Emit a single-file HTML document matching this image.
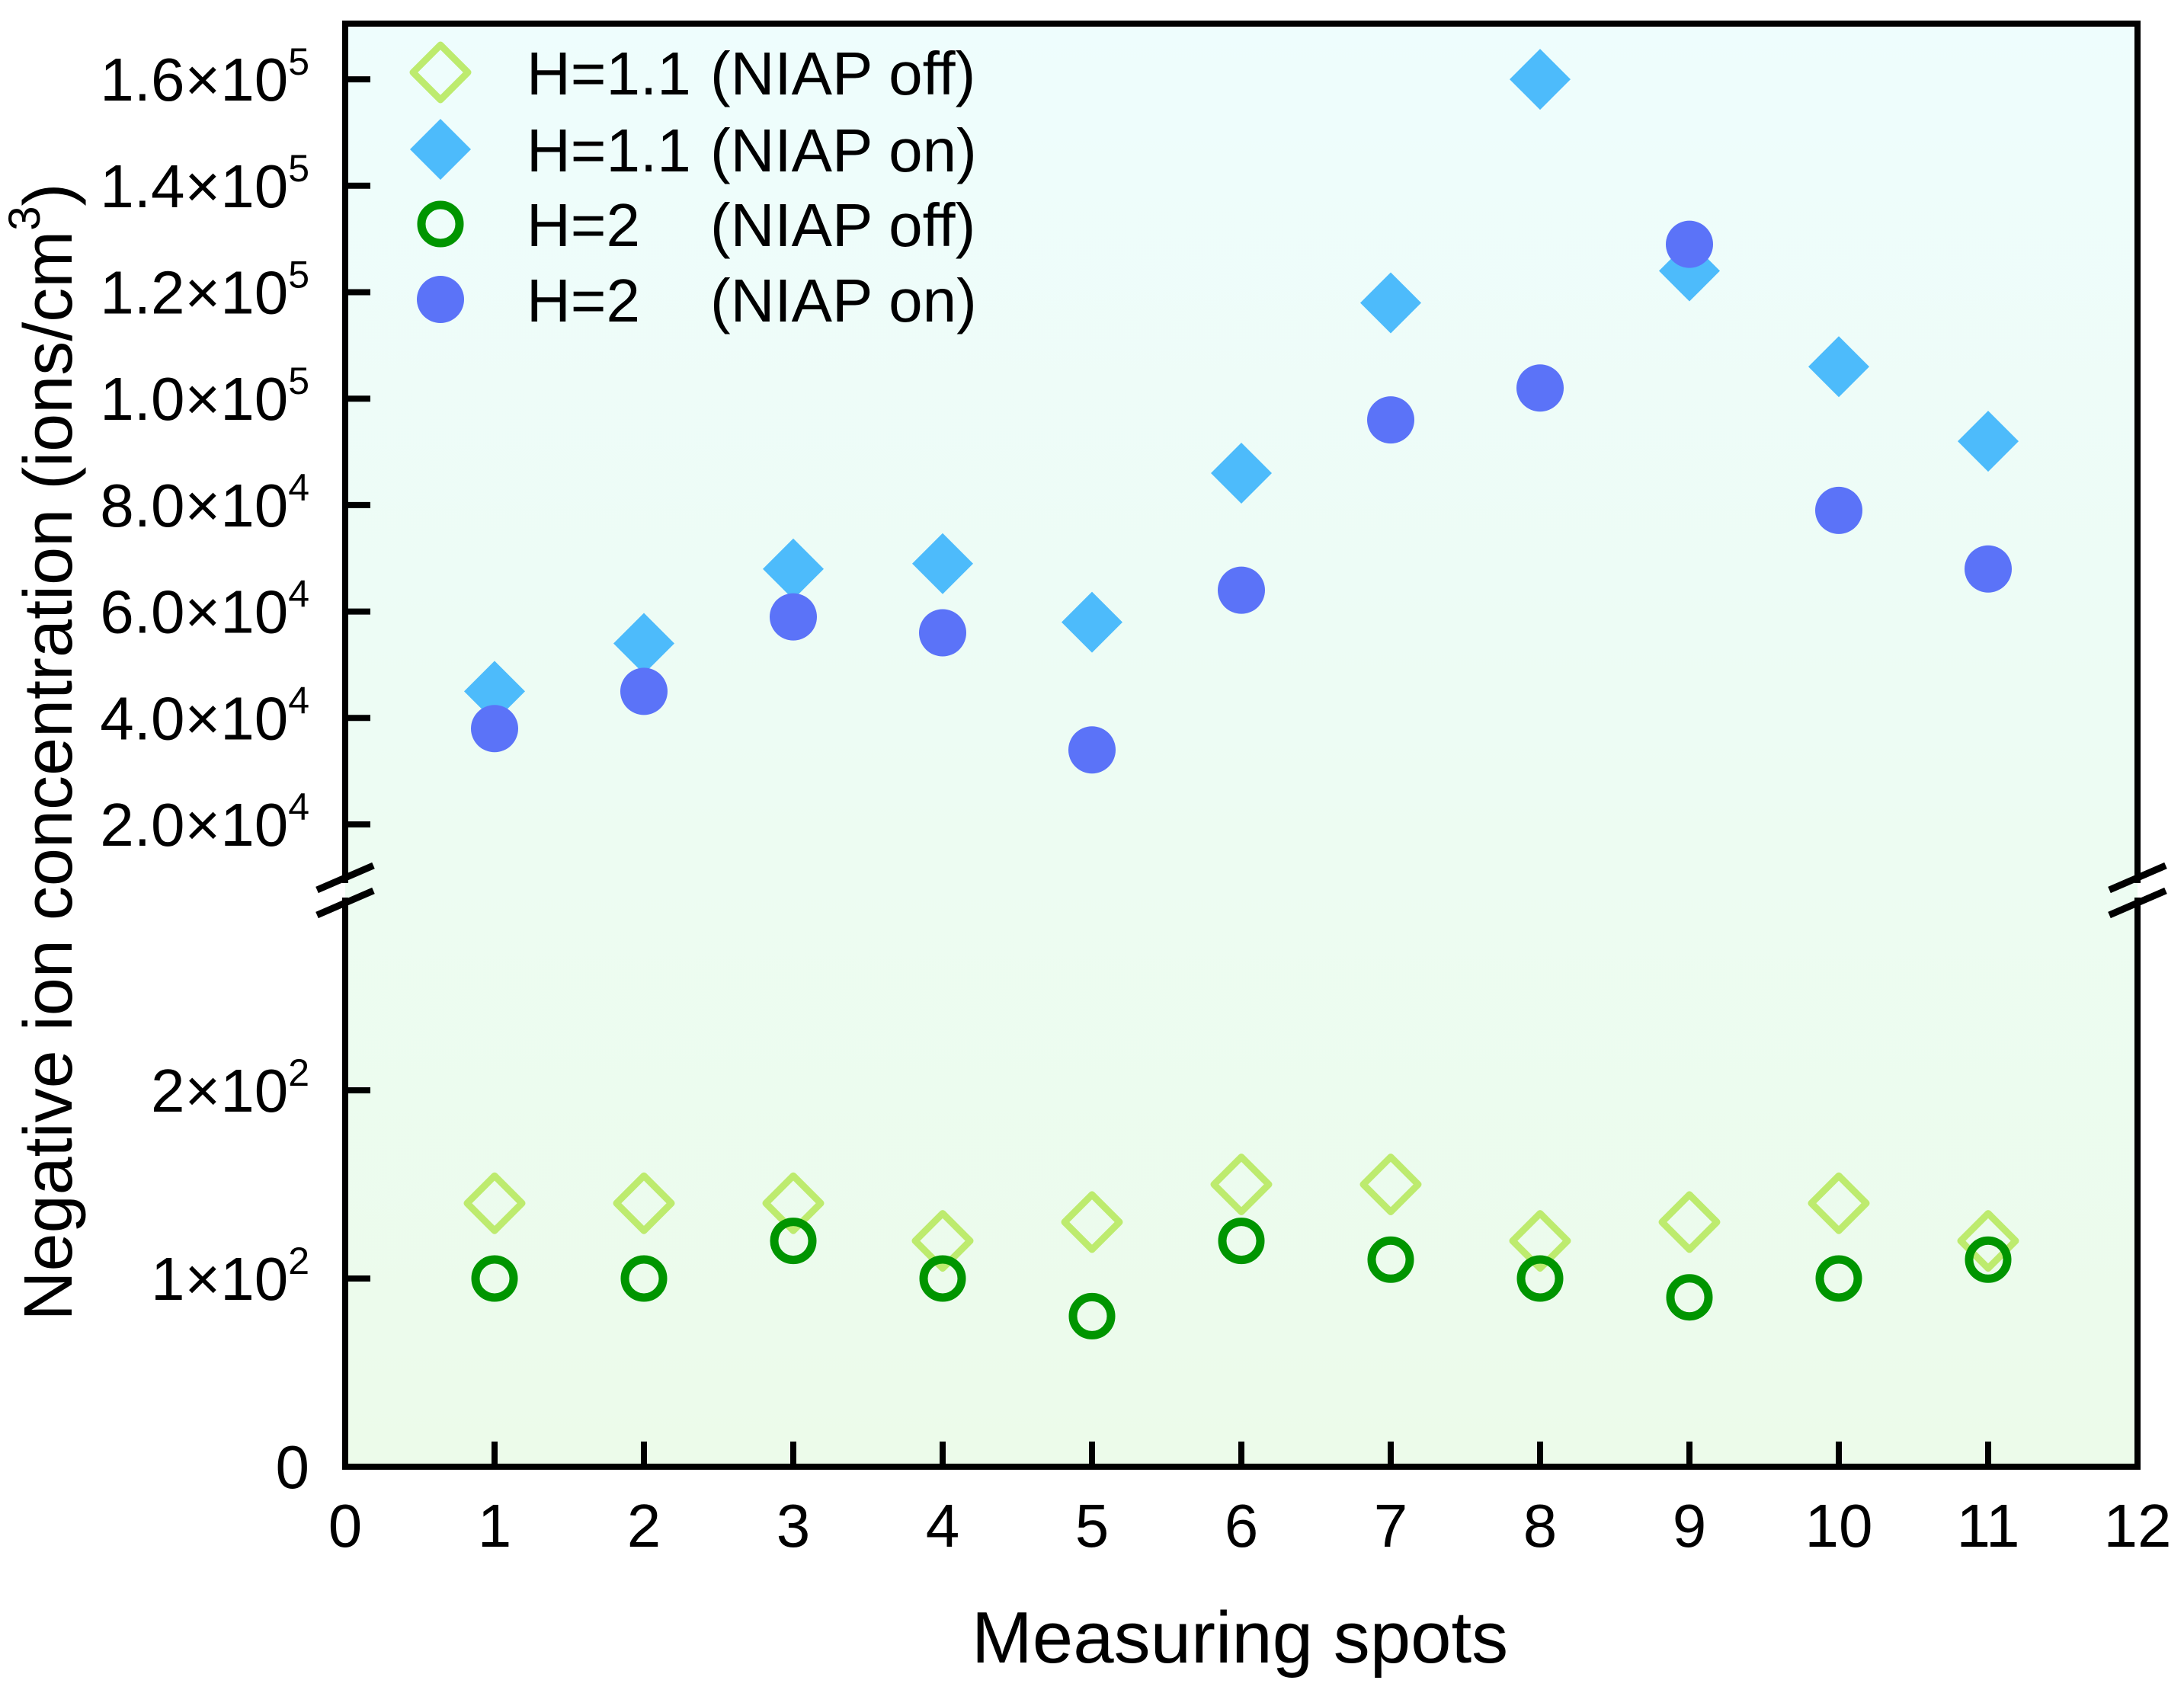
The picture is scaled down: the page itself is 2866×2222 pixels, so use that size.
<!DOCTYPE html>
<html><head><meta charset="utf-8"><style>
html,body{margin:0;padding:0;background:#fff;}
svg{display:block;font-family:"Liberation Sans",Arial,sans-serif;}
</style></head><body>
<svg id="chart" width="2866" height="2222" viewBox="0 0 2866 2222" xmlns="http://www.w3.org/2000/svg">
<defs>
<linearGradient id="bg" x1="0" y1="0" x2="0" y2="1">
<stop offset="0" stop-color="#eefdfd"/><stop offset="1" stop-color="#ecfbea"/>
</linearGradient>
</defs>
<rect x="453" y="31" width="2352" height="1894" fill="url(#bg)"/>
<g id="marks"></g>
<g id="axes"></g>
<g id="legend"></g>
<text x="64" y="987" font-size="90" text-anchor="middle" transform="rotate(-90 64 987)" dominant-baseline="central">Negative ion concentration (ions/cm<tspan dy="-32" font-size="58">3</tspan><tspan dy="32">)</tspan></text>
<text x="1627" y="2182" font-size="96" text-anchor="middle">Measuring spots</text>
</svg>
<script>
const spots = [1,2,3,4,5,6,7,8,9,10,11];
const h11On = [45000,54000,68000,69000,58000,86000,118000,160000,124000,106000,92000];
const h2On = [38000,45000,59000,56000,34000,64000,96000,102000,129000,79000,68000];
const h11Off = [140,140,140,120,130,150,150,120,130,140,120];
const h2Off = [100,100,120,100,80,120,110,100,90,100,110];
const xTicks = [0,1,2,3,4,5,6,7,8,9,10,11,12];
const yUpperTicks = [20000,40000,60000,80000,100000,120000,140000,160000];
const yUpperLabels = [["2.0","4"],["4.0","4"],["6.0","4"],["8.0","4"],["1.0","5"],["1.2","5"],["1.4","5"],["1.6","5"]];
const yLowerTicks = [0,100,200];
const yLowerLabels = [["0",""],["1","2"],["2","2"]];

const NS="http://www.w3.org/2000/svg";
const L=453,R=2805,T=31,B=1925;
function xs(v){return L+v*196;}
function yUp(v){return 1082-(v-20000)/20000*139.7;}
function yLow(v){return B-v*2.47;}
function mk(tag,attrs,parent){const e=document.createElementNS(NS,tag);for(const k in attrs)e.setAttribute(k,attrs[k]);parent.appendChild(e);return e;}
const marks=document.getElementById('marks'),axes=document.getElementById('axes'),legend=document.getElementById('legend');
function diamond(cx,cy,r){return `M${cx},${cy-r} L${cx+r},${cy} L${cx},${cy+r} L${cx-r},${cy} Z`;}

spots.forEach((s,i)=>{
  let e=mk('path',{d:diamond(xs(s),yLow(h11Off[i]),36),fill:'none',stroke:'#bdeb6e','stroke-width':9,'stroke-linejoin':'round'},marks);
  
  
});
spots.forEach((s,i)=>{
  let e=mk('circle',{cx:xs(s),cy:yLow(h2Off[i]),r:25,fill:'none',stroke:'#009500','stroke-width':11},marks);
  
  
});
spots.forEach((s,i)=>{
  let e=mk('path',{d:diamond(xs(s),yUp(h11On[i]),40),fill:'#4dbbfb','stroke-linejoin':'round'},marks);
  
  
});
spots.forEach((s,i)=>{
  let e=mk('circle',{cx:xs(s),cy:yUp(h2On[i]),r:31,fill:'#5b73f8'},marks);
  
  
});

const sw=8;
[[L,T,R,T],[L,B,R,B],[L,T,L,1155],[L,1182,L,B],[R,T,R,1155],[R,1182,R,B]].forEach(a=>{
  let e=mk('line',{x1:a[0],y1:a[1],x2:a[2],y2:a[3],stroke:'#000','stroke-width':sw,'stroke-linecap':'square'},axes);
  
  
});
[L,R].forEach(x=>{[1152,1185].forEach(y=>{
  let e=mk('line',{x1:x-37,y1:y+16,x2:x+37,y2:y-16,stroke:'#000','stroke-width':9},axes);
  
  
});});
xTicks.forEach(v=>{
  if(v>0&&v<12){let t=mk('line',{x1:xs(v),y1:B,x2:xs(v),y2:B-33,stroke:'#000','stroke-width':sw},axes);
  
  }
  let e=mk('text',{x:xs(v),y:2030,'font-size':80,'text-anchor':'middle'},axes);
  e.textContent=String(v);
  
  
});
function yLabel(y,lab){
  let e=mk('text',{x:406,y:y+28,'font-size':80,'text-anchor':'end'},axes);
  
  
  if(lab[1]===''){e.textContent=lab[0];return;}
  const a=document.createElementNS(NS,'tspan');a.textContent=lab[0]+'×10';e.appendChild(a);
  const b=document.createElementNS(NS,'tspan');b.setAttribute('dy','-34');b.setAttribute('font-size','50');b.textContent=lab[1];e.appendChild(b);
}
yUpperTicks.forEach((v,i)=>{
  let t=mk('line',{x1:L,y1:yUp(v),x2:L+33,y2:yUp(v),stroke:'#000','stroke-width':sw},axes);
  
  
  yLabel(yUp(v),yUpperLabels[i]);
});
yLowerTicks.forEach((v,i)=>{
  if(v>0){let t=mk('line',{x1:L,y1:yLow(v),x2:L+33,y2:yLow(v),stroke:'#000','stroke-width':sw},axes);
  
  }
  yLabel(yLow(v),yLowerLabels[i]);
});

const legNames=[["H=1.1","(NIAP off)"],["H=1.1","(NIAP on)"],["H=2","(NIAP off)"],["H=2","(NIAP on)"]];
const legY=[95,196,294,393];
let g;
g=mk('path',{d:diamond(578,legY[0],36),fill:'none',stroke:'#bdeb6e','stroke-width':9,'stroke-linejoin':'round'},legend);


g=mk('path',{d:diamond(578,legY[1],40),fill:'#4dbbfb'},legend);


g=mk('circle',{cx:578,cy:legY[2],r:25,fill:'none',stroke:'#009500','stroke-width':11},legend);


g=mk('circle',{cx:578,cy:legY[3],r:31,fill:'#5b73f8'},legend);


legNames.forEach((n,i)=>{
  let a=mk('text',{x:691,y:legY[i]+29,'font-size':80},legend);
  a.textContent=n[0];
  
  
  let b=mk('text',{x:932,y:legY[i]+29,'font-size':80},legend);
  b.textContent=n[1];
  
  
});
</script>
</body></html>
